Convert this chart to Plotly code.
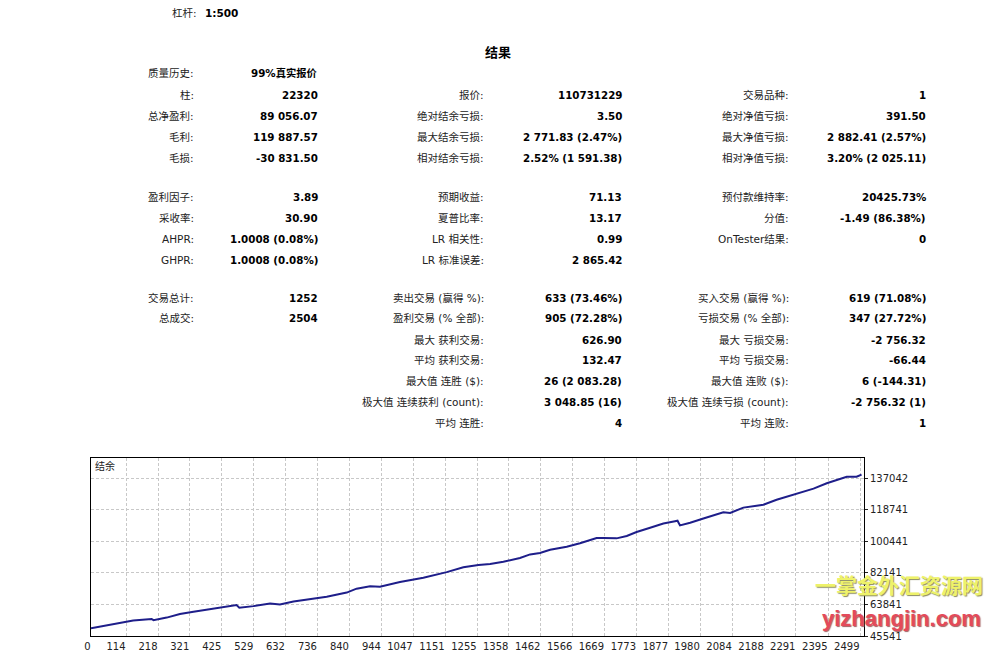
import plotly.graph_objects as go

# balance curve (deal index, balance)
deal_no = [0, 94, 137, 197, 203, 246, 289, 333, 398, 430, 473, 482, 528, 582, 614, 658,
           723, 766, 831, 863, 907, 939, 1004, 1047, 1080, 1156, 1210, 1259, 1297, 1340,
           1394, 1427, 1459, 1492, 1546, 1589, 1643, 1665, 1708, 1741, 1773, 1817, 1860,
           1898, 1906, 1914, 1947, 1990, 2034, 2055, 2077, 2120, 2163, 2185, 2228, 2272,
           2315, 2348, 2391, 2434, 2456, 2488, 2504]
balance = [50000, 52900, 54500, 55400, 54700, 56200, 58300, 59650, 61400, 62100, 63450,
           61950, 62850, 64400, 63850, 65550, 67400, 68250, 70700, 72950, 74300, 74100,
           76800, 78150, 79300, 82550, 85400, 86700, 87300, 88600, 90700, 92800, 93600,
           95450, 97200, 99300, 102300, 102350, 102100, 103450, 105750, 108250, 110700,
           112000, 112300, 109600, 111100, 113600, 116050, 117200, 116850, 119900, 121050,
           121600, 124450, 126750, 129400, 130900, 134000, 136600, 137750, 137800, 139056]

x_ticks = [0, 114, 218, 321, 425, 529, 632, 736, 840, 944, 1047, 1151, 1255, 1358, 1462,
           1566, 1669, 1773, 1877, 1980, 2084, 2188, 2291, 2395, 2499]
y_ticks = [45541, 63841, 82141, 100441, 118741, 137042]

# report table
col1_rows = [0, 1, 2, 3, 4, 5, 6, 7, 8, 9, 10]
col1_labels = ["质量历史:", "柱:", "总净盈利:", "毛利:", "毛损:", "盈利因子:", "采收率:",
               "AHPR:", "GHPR:", "交易总计:", "总成交:"]
col1_values = ["99%真实报价", "22320", "89 056.07", "119 887.57", "-30 831.50", "3.89",
               "30.90", "1.0008 (0.08%)", "1.0008 (0.08%)", "1252", "2504"]

col2_rows = [1, 2, 3, 4, 5, 6, 7, 8, 9, 10, 11, 12, 13, 14, 15]
col2_labels = ["报价:", "绝对结余亏损:", "最大结余亏损:", "相对结余亏损:", "预期收益:",
               "夏普比率:", "LR 相关性:", "LR 标准误差:", "卖出交易 (赢得 %):",
               "盈利交易 (% 全部):", "最大 获利交易:", "平均 获利交易:", "最大值 连胜 ($):",
               "极大值 连续获利 (count):", "平均 连胜:"]
col2_values = ["110731229", "3.50", "2 771.83 (2.47%)", "2.52% (1 591.38)", "71.13",
               "13.17", "0.99", "2 865.42", "633 (73.46%)", "905 (72.28%)", "626.90",
               "132.47", "26 (2 083.28)", "3 048.85 (16)", "4"]

col3_rows = [1, 2, 3, 4, 5, 6, 7, 9, 10, 11, 12, 13, 14, 15]
col3_labels = ["交易品种:", "绝对净值亏损:", "最大净值亏损:", "相对净值亏损:", "预付款维持率:",
               "分值:", "OnTester结果:", "买入交易 (赢得 %):", "亏损交易 (% 全部):",
               "最大 亏损交易:", "平均 亏损交易:", "最大值 连败 ($):",
               "极大值 连续亏损 (count):", "平均 连败:"]
col3_values = ["1", "391.50", "2 882.41 (2.57%)", "3.20% (2 025.11)", "20425.73%",
               "-1.49 (86.38%)", "0", "619 (71.08%)", "347 (27.72%)", "-2 756.32",
               "-66.44", "6 (-144.31)", "-2 756.32 (1)", "1"]

row_y = [73, 95, 116, 137, 158, 197, 218, 239, 260, 298, 318, 340, 360, 381, 402, 423]

# page has an 8px body margin, so the figure sits at (8, 8)
OFF = 8
W, H = 1006 - 2 * OFF, 672 - 2 * OFF
L, R, T, B = 91, 864, 458, 638
FONT = "Tahoma, DejaVu Sans, Noto Sans CJK SC, sans-serif"

fig = go.Figure()
fig.add_trace(go.Scatter(x=deal_no, y=balance, mode="lines",
                         line=dict(color="#1e1e8a", width=2), hoverinfo="skip"))

ann = []


def text(x, y, s, anchor="right", bold=False, size=11, color="#222222", family=FONT, **kw):
    # anchored at the plot's top-left corner, shifted in pixels
    ann.append(dict(x=0, y=1, xref="paper", yref="paper", xshift=x - L, yshift=T - y,
                    text=s, showarrow=False, xanchor=anchor, yanchor="middle",
                    font=dict(family=family, size=size, color=color,
                              weight="bold" if bold else "normal", **kw)))


text(199, 13, "杠杆:", size=10.5)
text(203, 13, "1:500", anchor="left", bold=True, size=10.5, color="#000")
text(498, 52, "结果", anchor="center", bold=True, size=13, color="#000")

for rows, labels, values, lx, vx in [(col1_rows, col1_labels, col1_values, 196, 320),
                                     (col2_rows, col2_labels, col2_values, 486, 624),
                                     (col3_rows, col3_labels, col3_values, 791, 928)]:
    for r, lab, val in zip(rows, labels, values):
        text(lx, row_y[r], lab, size=10.5)
        text(vx, row_y[r], val, bold=True, size=10.3, color="#000")

text(93, 466, "结余", anchor="left", size=10, color="#222")

# watermark
text(899, 584, "一掌金外汇资源网", anchor="center", bold=True, size=21, color="#eef26a",
     family="Noto Sans CJK SC", shadow="1px 1px 1px #8a8a60")
text(901, 618, "yizhangjin.com", anchor="center", bold=True, size=22, color="#e44a5a",
     family="Liberation Sans", shadow="1px 1px 1px #a06060")

fig.update_layout(
    width=W, height=H,
    margin=dict(l=L - OFF, r=(W + OFF) - R, t=T - OFF, b=(H + OFF) - B, pad=0),
    paper_bgcolor="white", plot_bgcolor="white",
    showlegend=False,
    annotations=ann,
    xaxis=dict(range=[0, 2512], tickvals=x_ticks, ticktext=[str(v) for v in x_ticks],
               showgrid=True, gridcolor="#c8c8c8", griddash="3px,2px", gridwidth=1,
               showline=True, linecolor="black", linewidth=1, mirror=True,
               ticks="", ticklabelposition="outside left", ticklabelstandoff=1,
               tickangle=0,
               tickfont=dict(family=FONT, size=10, color="#222"), zeroline=False),
    yaxis=dict(range=[45541, 148650], tickvals=y_ticks, ticktext=[str(v) for v in y_ticks],
               side="right", showgrid=True, gridcolor="#c8c8c8", griddash="3px,2px",
               showline=True, linecolor="black", linewidth=1, mirror=True,
               ticks="outside", ticklen=3, tickcolor="#222",
               tickfont=dict(family=FONT, size=10, color="#222"), zeroline=False),
)

fig.write_html("out.html")
